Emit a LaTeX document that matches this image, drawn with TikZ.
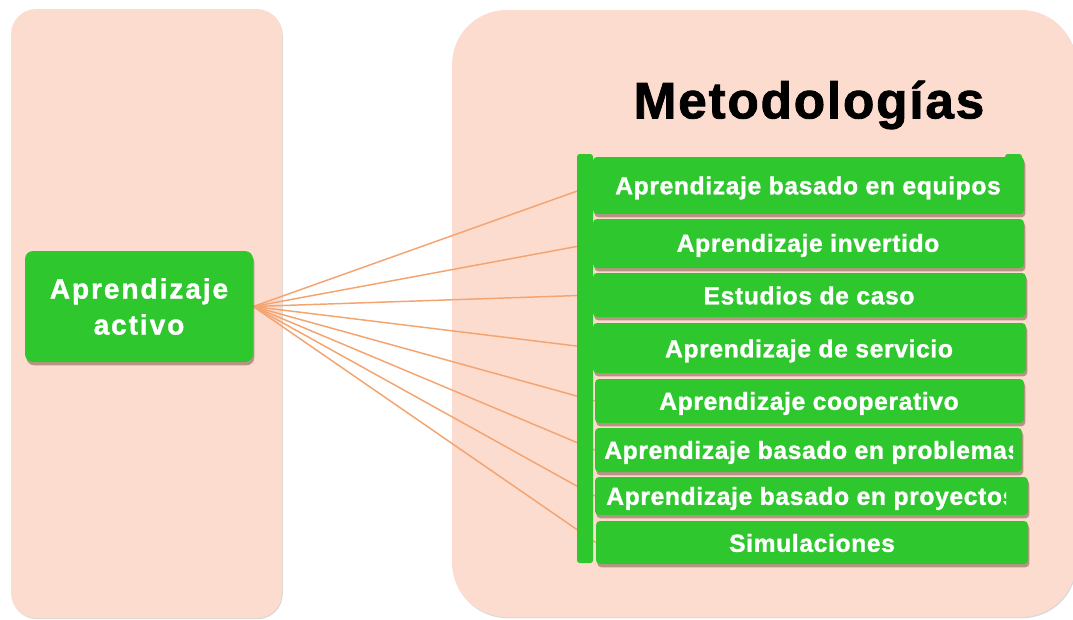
\documentclass[tikz,border=0pt]{standalone}
\usepackage{fontspec}
\setmainfont{Liberation Sans}
\newfontfamily\boxfont[LetterSpace=2.5, BoldFeatures={FakeBold=1.2}]{Liberation Sans}
\newfontfamily\actfont[LetterSpace=7, BoldFeatures={FakeBold=1.3}]{Liberation Sans}
\newfontfamily\titlefont[LetterSpace=3.5, BoldFeatures={FakeBold=1.6}]{Liberation Sans}
\usetikzlibrary{shadows,fit}
\definecolor{peach}{RGB}{252,220,207}
\definecolor{leaf}{RGB}{46,200,46}
\definecolor{wire}{RGB}{244,164,112}
\definecolor{shade}{RGB}{140,100,85}
\pgfdeclarelayer{panels}
\pgfdeclarelayer{wires}
\pgfsetlayers{panels,wires,main}
\begin{document}
\begin{tikzpicture}[x=0.75pt,y=-0.75pt,
  panel/.style={fill=peach, draw=none, drop shadow={shadow xshift=0.6pt, shadow yshift=-0.9pt, fill=black, opacity=0.15}},
  mbox/.style={fill=leaf, rounded corners=3pt, inner sep=0pt, draw=none,
    drop shadow={shadow xshift=1pt, shadow yshift=-2.5pt, fill=shade, opacity=0.6}},
  btxt/.style={text=white, font=\boxfont\bfseries\fontsize{18.5}{20}\selectfont, text height=13.2pt, text depth=0pt, inner sep=0pt},
  actbox/.style={fill=leaf, rounded corners=6pt, draw=none, inner sep=0pt,
    drop shadow={shadow xshift=1pt, shadow yshift=-2.5pt, fill=shade, opacity=0.6},
    text=white, align=center, font=\actfont\bfseries\fontsize{21}{27}\selectfont},
  ttl/.style={font=\titlefont\bfseries\fontsize{38.5}{40}\selectfont, text height=27.5pt, text depth=0pt, inner sep=0pt},
  conn/.style={draw=wire, line width=1.1pt},
  barfill/.style={fill=leaf, rounded corners=2pt},
]
\useasboundingbox (0,0) rectangle (1073,619);

\begin{pgfonlayer}{panels}
  \fill[white] (0,0) rectangle (1073,619);
  \path[panel, rounded corners=19pt] (11,9) rectangle (282,618);
  \path[panel, rounded corners=41pt] (452,10) rectangle (1076,617);
\end{pgfonlayer}

\node[ttl] (title) at (809,100) {Metodologías};

\node[actbox, minimum width=171pt, minimum height=83.25pt] (act) at (139,306.5) {Aprendizaje\\activo};

% vertical bar and top nub
\fill[barfill] (577,154) rectangle (593,563);
\fill[barfill] (1005,154) rectangle (1022,175);

\node[mbox, fit={(593,157)(1024,214)}] (b1) {};
\node[mbox, fit={(593,219)(1024,268)}] (b2) {};
\node[mbox, fit={(593,273)(1026,317)}] (b3) {};
\node[mbox, fit={(593,323)(1026,373)}] (b4) {};
\node[mbox, fit={(595,379)(1024,423)}] (b5) {};
\node[mbox, fit={(595,428)(1022,472)}] (b6) {};
\node[mbox, fit={(595,477)(1028,515)}] (b7) {};
\node[mbox, fit={(596,521)(1028,564)}] (b8) {};

\node[btxt] (t1) at (808,185.5) {Aprendizaje basado en equipos};
\node[btxt] (t2) at (808,243) {Aprendizaje invertido};
\node[btxt] (t3) at (809,295.5) {Estudios de caso};
\node[btxt] (t4) at (809,348.5) {Aprendizaje de servicio};
\node[btxt] (t5) at (809,401) {Aprendizaje cooperativo};
\node[btxt] (t8) at (812,543) {Simulaciones};
\begin{scope}
  \clip (595,428) rectangle (1013,474);
  \node[btxt, anchor=west] (t6) at (604,450) {Aprendizaje basado en problemas};
\end{scope}
\begin{scope}
  \clip (595,476) rectangle (1006,515);
  \node[btxt, anchor=west] (t7) at (606,496) {Aprendizaje basado en proyectos};
\end{scope}

\begin{pgfonlayer}{wires}
  \foreach \b in {b1,b2,b3,b4,b5,b6,b7,b8}
    \draw[conn] (act.east) -- (\b.west);
\end{pgfonlayer}
\end{tikzpicture}
\end{document}
